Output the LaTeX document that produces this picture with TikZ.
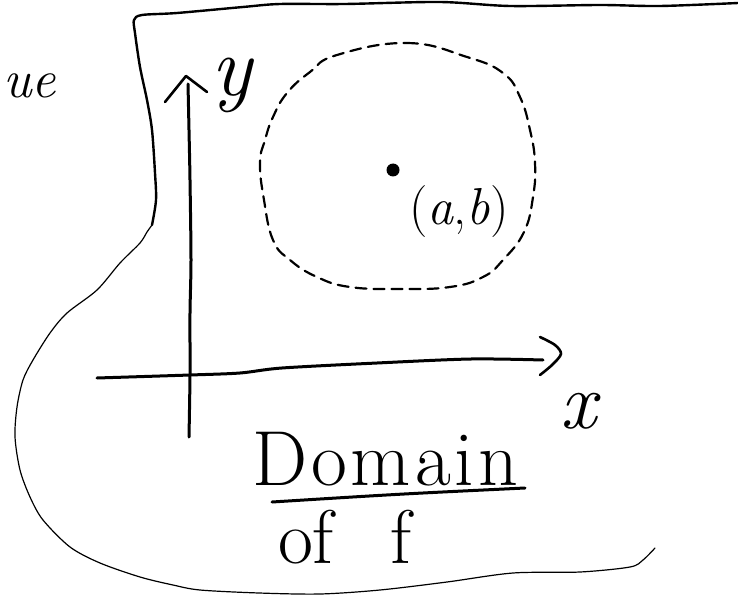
\documentclass[tikz,border=0pt]{standalone}
\usepackage{fontspec}
\begin{document}
\begin{tikzpicture}[x=1pt,y=-1pt,
  outline/.style={line width=1.2pt, line join=round, line cap=round},
  topedge/.style={line width=2.4pt, line join=round, line cap=round},
  axisline/.style={line width=3pt, line cap=round},
  tipline/.style={line width=2.6pt, line cap=round, line join=round},
  dashring/.style={line width=2.2pt, dash pattern=on 11pt off 7pt, line cap=round},
  hand/.style={inner sep=0pt, outer sep=0pt},
  dot/.style={circle, fill, inner sep=0pt, minimum size=13pt}]
\useasboundingbox (0,0) rectangle (738,596);

% region outline (domain)
\draw[topedge] plot[smooth, tension=0.5] coordinates {(738,3) (660,6) (600,5) (510,6) (440,2) (345,4) (280,4) (243,7) (177,13) (142,15) (134,20) (135,33) (140,67) (147,100) (152,130) (155,173) (156,200) (152,225)};
\draw[outline] plot[smooth, tension=0.5] coordinates {(152,225) (147,232) (140,243) (120,263) (97,290) (67,313) (50,333) (33,360) (23,380) (17,407) (15,437) (20,470) (30,497) (43,520) (70,547) (100,563) (140,577) (173,585) (200,590) (259,593) (320,594) (380,590) (447,582) (513,573) (580,572) (630,567) (643,560) (655,548)};

% axes
\draw[axisline] plot[smooth] coordinates {(189,437) (190,375) (190,313) (191,260) (190,180) (189,130) (188,84)};
\draw[tipline] (165,102) -- (186,76) -- (207,92);
\draw[axisline] plot[smooth] coordinates {(97,378) (190,375) (240,373) (282,368) (377,363) (471,359) (543,360)};
\draw[tipline] plot[smooth] coordinates {(540,337) (555,345) (561,354) (552,365) (540,375)};

% dashed disc
\draw[dashring] plot[smooth cycle, tension=0.75] coordinates {(337,55) (407,43) (467,57) (503,73) (520,97) (530,130) (535,163) (533,197) (524,232) (503,260) (483,277) (450,287) (400,289) (350,287) (317,277) (290,260) (273,240) (264,200) (260,163) (265,140) (273,117) (287,93) (310,72)};

\node[dot] (pt) at (393,170) {};
\node[hand, anchor=base] (abl) at (459,224) {\fontsize{52}{52}\selectfont ({\itshape a},{\itshape b})};

% labels
\node[hand, anchor=base] (ylab) at (232,96) {\fontsize{85}{85}\selectfont\itshape y};
\node[hand, anchor=base] (xlab) at (578,428) {\fontsize{80}{80}\selectfont\itshape x};
\node[hand, anchor=base west] (ue) at (3,98) {\fontsize{54}{54}\selectfont\itshape ue};

\node[hand, anchor=base west] (dom) at (252,485) {\fontsize{78}{78}\selectfont D\kern4pt o\kern4pt m\kern4pt a\kern4pt i\kern4pt n};
\draw[line width=3pt, line cap=round] (272,502) .. controls (400,494) .. (525,488);
\node[hand, anchor=base west] (off) at (278,563) {\fontsize{76}{76}\selectfont of\ \hspace{34pt}f};
\end{tikzpicture}
\end{document}
